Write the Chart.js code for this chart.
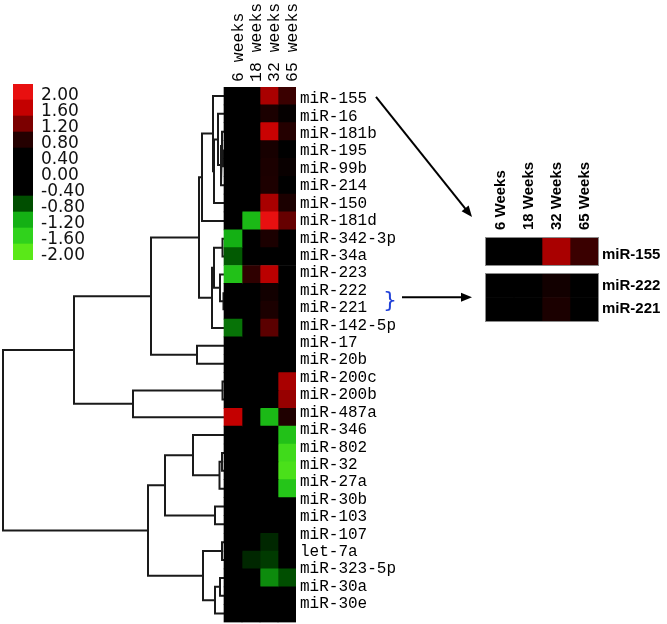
<!DOCTYPE html>
<html><head><meta charset="utf-8">
<script src="https://cdn.jsdelivr.net/npm/chart.js@4.4.1/dist/chart.umd.min.js"></script>
<style>
html,body{margin:0;padding:0;background:#fff;}
#wrap{position:relative;width:667px;height:624px;overflow:hidden;}
#wrap canvas{position:absolute;left:0;top:0;width:667px;height:624px;}
</style></head><body>
<div id="wrap">
<canvas id="main" width="667" height="624"></canvas>
<canvas id="leg" width="667" height="624"></canvas>
<canvas id="ins1" width="667" height="624"></canvas>
<canvas id="ins2" width="667" height="624"></canvas>
</div>
<script>
// ---------- data ----------
const rows = ['miR-155','miR-16','miR-181b','miR-195','miR-99b','miR-214','miR-150','miR-181d',
  'miR-342-3p','miR-34a','miR-223','miR-222','miR-221','miR-142-5p','miR-17','miR-20b',
  'miR-200c','miR-200b','miR-487a','miR-346','miR-802','miR-32','miR-27a','miR-30b',
  'miR-103','miR-107','let-7a','miR-323-5p','miR-30a','miR-30e'];
const weeks = ['6 weeks','18 weeks','32 weeks','65 weeks'];
const wk6  = [0,0,0,0,0,0,0,0, -1.2,-0.85,-1.4,0,0,-0.95,0,0, 0,0,1.6,0,0,0,0,0, 0,0,0,0,0,0];
const wk18 = [0,0,0,0,0,0,0,-1.3, 0,0,0.85,0,0,0,0,0, 0,0,0,0,0,0,0,0, 0,0,-0.6,0,0,0];
const wk32 = [1.45,0.7,1.65,0.65,0.7,0.72,1.45,2.0, 0.7,0.2,1.55,0.6,0.7,1.05,0,0, 0,0.1,-1.3,0,0,0,0,0, 0,-0.6,-0.7,-1.05,0,0];
const wk65 = [0.9,0.45,0.8,0.4,0.5,0.4,0.7,1.1, 0.3,0,0,0,0,0,0,0, 1.45,1.35,0.75,-1.4,-1.75,-1.85,-1.45,0, 0,0,0,-0.8,0,0];

const legendLabels = ['2.00','1.60','1.20','0.80','0.40','0.00','-0.40','-0.80','-1.20','-1.60','-2.00'];
const legendValues = [2,1.6,1.2,0.8,0.4,0,-0.4,-0.8,-1.2,-1.6,-2];
const legendRGB = [[232,16,16],[196,0,0],[124,0,0],[36,0,0],[0,0,0],[0,0,0],[0,0,0],
  [0,78,0],[20,176,20],[48,210,28],[90,232,24]];

// dendrogram merges: [childA, childB, height]; numbers = rows, 'mK' = merge K
const merges = [
  [3,4,1],[2,'m0',2],['m1',5,3],[1,'m2',6],['m3',6,10],[0,'m4',11],['m5',7,22],
  [8,9,1.5],[11,12,0.8],[10,'m8',4],['m7','m9',10],['m10',13,12],
  ['m6','m11',25],[14,15,27],['m12','m13',73],
  [16,17,1.5],['m15',18,91],['m14','m16',150],
  [20,21,2],['m18',22,4.5],[19,'m19',31],[23,24,9],['m20','m21',59],
  [25,26,2],[27,28,4],['m24',29,9],['m23','m25',21],['m22','m26',76],
  ['m17','m27',221]
];

const insetTop = ['miR-155'];
const insetBottom = ['miR-222','miR-221'];
const insetWeeks = ['6 Weeks','18 Weeks','32 Weeks','65 Weeks'];

// ---------- helpers ----------
Chart.defaults.animation = false;
const cols = [wk6, wk18, wk32, wk65];
function rgbFor(v){
  if (v >= legendValues[0]) return legendRGB[0];
  for (let i=0;i<legendValues.length-1;i++){
    const a=legendValues[i], b=legendValues[i+1];
    if (v<=a && v>=b){
      const t=(a-v)/(a-b);
      return legendRGB[i].map((c,k)=>Math.round(c+(legendRGB[i+1][k]-c)*t));
    }
  }
  return legendRGB[legendRGB.length-1];
}
const css = c => `rgb(${c[0]},${c[1]},${c[2]})`;

function dendroPoints(){
  const pos = {};
  const P = k => typeof k === 'number' ? {h:0, y:k} : pos[k];
  const pts = [];
  merges.forEach((m,i)=>{
    const a=P(m[0]), b=P(m[1]), h=m[2];
    pos['m'+i] = {h, y:(a.y+b.y)/2};
    pts.push({x:a.h,y:a.y},{x:h,y:a.y},{x:h,y:b.y},{x:b.h,y:b.y},{x:NaN,y:NaN});
  });
  return pts;
}

function heatSets(labels, rowIdx){
  return cols.map((vals,c)=>({
    type:'bar', indexAxis:'y', xAxisID:'x', yAxisID:'y',
    data: labels.map(()=>[c,c+1]),
    backgroundColor: labels.map((r,i)=>css(rgbFor(vals[rowIdx(r,i)]))),
    borderWidth:0, grouped:false, barPercentage:1, categoryPercentage:1
  }));
}

const noPadV = s => { s.paddingTop = 0; s.paddingBottom = 0; };
const noPadH = s => { s.paddingLeft = 0; s.paddingRight = 0; };
const noGrid = { display:false, drawTicks:false };

function arrow(ctx, x1, y1, x2, y2){
  const ang = Math.atan2(y2-y1, x2-x1), L = 11, W = 4.5;
  ctx.save();
  ctx.strokeStyle = '#000'; ctx.fillStyle = '#000'; ctx.lineWidth = 2;
  ctx.beginPath(); ctx.moveTo(x1,y1);
  ctx.lineTo(x2 - Math.cos(ang)*L*0.8, y2 - Math.sin(ang)*L*0.8); ctx.stroke();
  ctx.beginPath(); ctx.moveTo(x2,y2);
  ctx.lineTo(x2 - Math.cos(ang)*L - Math.sin(ang)*W, y2 - Math.sin(ang)*L + Math.cos(ang)*W);
  ctx.lineTo(x2 - Math.cos(ang)*L + Math.sin(ang)*W, y2 - Math.sin(ang)*L - Math.cos(ang)*W);
  ctx.closePath(); ctx.fill();
  ctx.restore();
}

const annot = {
  id:'annot',
  afterDraw(chart){
    const ctx = chart.ctx, yl = chart.scales.yl;
    const y0 = yl.getPixelForValue(0) - 2;
    arrow(ctx, 376, y0, 472, 217);
    const yb = (yl.getPixelForValue(11) + yl.getPixelForValue(12))/2 + 2;
    ctx.save();
    ctx.fillStyle = '#2040d8'; ctx.font = '22px "DejaVu Sans"';
    ctx.textAlign = 'center'; ctx.textBaseline = 'middle';
    ctx.fillText('}', 390, yb);
    ctx.restore();
    arrow(ctx, 402, yb-4, 472, yb-4);
  }
};

const frame = {
  id:'frame',
  afterDatasetsDraw(chart){
    const a = chart.chartArea, ctx = chart.ctx;
    ctx.save(); ctx.strokeStyle = '#8a8a8a'; ctx.lineWidth = 1;
    ctx.strokeRect(a.left-0.5, a.top-0.5, a.right-a.left+1, a.bottom-a.top+1);
    ctx.restore();
  }
};

const commonPlugins = { legend:{display:false}, tooltip:{enabled:false} };

// ---------- main heatmap + dendrogram ----------
const mainSets = heatSets(rows, (r,i)=>i);
mainSets.push({
  type:'line', indexAxis:'x', xAxisID:'xd', yAxisID:'yd',
  data: dendroPoints(), borderColor:'#1a1a1a', borderWidth:2,
  pointRadius:0, fill:false, tension:0, spanGaps:false
});

new Chart(document.getElementById('main'), {
  type:'bar',
  data:{ labels: rows, datasets: mainSets },
  options:{
    responsive:false, indexAxis:'y',
    layout:{ padding:{ left:2, right:0, top:0, bottom:1.5 } },
    plugins: commonPlugins,
    scales:{
      x:{ type:'linear', position:'top', min:-12.3333, max:4, offset:false,
          grid:noGrid, border:{display:false},
          afterBuildTicks: s => { s.ticks = weeks.map((w,i)=>({value:i+0.5})); },
          ticks:{ autoSkip:false, minRotation:90, maxRotation:90, padding:5, labelOffset:25,
                  font:{family:'Liberation Mono', size:16.5}, color:'#000',
                  callback:(v,i)=>weeks[i] },
          afterFit: s => { s.height = 87; noPadH(s); } },
      xd:{ type:'linear', display:false, reverse:true, min:-72, max:222, offset:false },
      y:{ type:'category', display:false, offset:true },
      yd:{ type:'linear', display:false, reverse:true, min:-0.5, max:rows.length-0.5, offset:false },
      yl:{ type:'linear', position:'right', reverse:true, min:-0.689, max:30.063, offset:false,
           grid:noGrid, border:{display:false},
           afterBuildTicks: s => { s.ticks = rows.map((r,i)=>({value:i})); },
           ticks:{ autoSkip:false, padding:4, font:{family:'Liberation Mono', size:16}, color:'#000',
                   callback:(v)=>rows[v] },
           afterFit: s => { s.width = 371; noPadV(s); } }
    }
  },
  plugins:[annot]
});

// ---------- colour legend ----------
new Chart(document.getElementById('leg'), {
  type:'bar',
  data:{ labels: legendLabels, datasets:[{
    indexAxis:'y', data: legendLabels.map(()=>[0,1]),
    backgroundColor: legendRGB.map(css), borderWidth:0,
    barPercentage:1, categoryPercentage:1 }] },
  options:{
    responsive:false, indexAxis:'y',
    layout:{ padding:{ left:13, top:84, right:0, bottom:364 } },
    plugins: commonPlugins,
    scales:{
      x:{ type:'linear', display:false, min:0, max:1 },
      y:{ type:'category', position:'right', grid:noGrid, border:{display:false},
          ticks:{ autoSkip:false, padding:8, labelOffset:4, font:{family:'DejaVu Sans', size:17}, color:'#111' },
          afterFit: s => { s.width = 634; noPadV(s); } }
    }
  }
});

// ---------- inset blocks ----------
function insetChart(id, labels, withHeader, pad){
  new Chart(document.getElementById(id), {
    type:'bar',
    data:{ labels, datasets: heatSets(labels, r=>rows.indexOf(r)) },
    options:{
      responsive:false, indexAxis:'y',
      layout:{ padding: pad },
      plugins: commonPlugins,
      scales:{
        x:{ type:'linear', position:'top', min:0, max:4, display: withHeader, offset:false,
            grid:noGrid, border:{display:false},
            afterBuildTicks: s => { s.ticks = insetWeeks.map((w,i)=>({value:i+0.5})); },
            ticks:{ autoSkip:false, minRotation:90, maxRotation:90, padding:8, labelOffset:19,
                    font:{family:'Liberation Sans', size:15, weight:'bold'}, color:'#000',
                    callback:(v,i)=>insetWeeks[i] },
            afterFit: s => { s.height = withHeader ? 238 : 0; noPadH(s); } },
        y:{ type:'category', position:'right', grid:noGrid, border:{display:false},
            ticks:{ autoSkip:false, padding:4, labelOffset: withHeader ? 3 : 0,
                    font:{family:'Liberation Sans', size:15, weight:'bold'}, color:'#000' },
            afterFit: s => { s.width = 69; noPadV(s); } }
      }
    },
    plugins:[frame]
  });
}
insetChart('ins1', insetTop, true, { left:486, right:0, top:0, bottom:359 });
insetChart('ins2', insetBottom, false, { left:486, right:0, top:274, bottom:303 });
</script>
</body></html>
